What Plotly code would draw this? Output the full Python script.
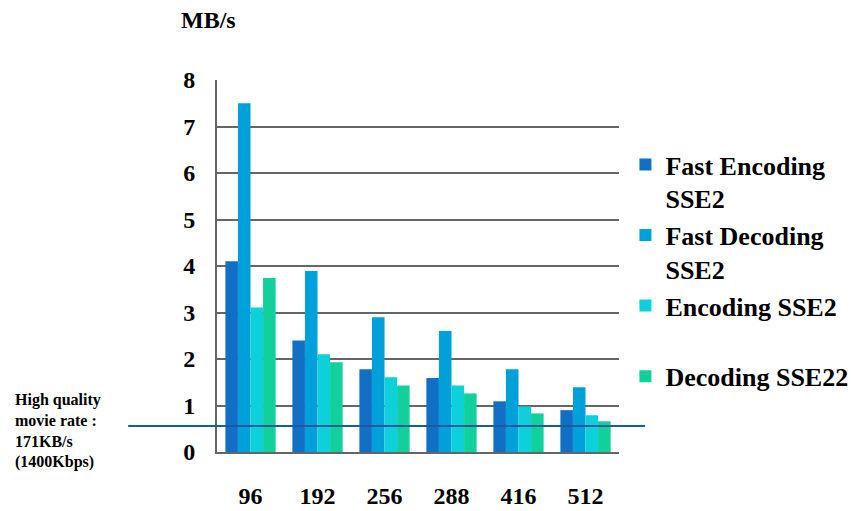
import plotly.graph_objects as go

categories = ["96", "192", "256", "288", "416", "512"]
fast_encoding = [4.10, 2.40, 1.78, 1.59, 1.09, 0.90]
fast_decoding = [7.50, 3.89, 2.90, 2.60, 1.78, 1.39]
encoding = [3.11, 2.10, 1.61, 1.43, 0.98, 0.79]
decoding = [3.74, 1.93, 1.43, 1.26, 0.83, 0.66]
series_names = ["Fast Encoding<br>SSE2", "Fast Decoding<br>SSE2", "Encoding SSE2<br> ", "Decoding SSE22"]
colors = ["#1170C6", "#00A0DA", "#0ED0DA", "#12D09B"]
threshold = 0.56
y_ticks = [0, 1, 2, 3, 4, 5, 6, 7, 8]

FONT = "'Liberation Serif', 'DejaVu Serif', serif"

fig = go.Figure()
for name, vals, col in zip(series_names, [fast_encoding, fast_decoding, encoding, decoding], colors):
    fig.add_trace(go.Bar(x=categories, y=vals, name="<b>" + name + "</b>",
                         marker=dict(color=col, line=dict(width=0))))

fig.add_shape(type="line", xref="paper", yref="y", x0=-0.221, x1=1.065, y0=threshold, y1=threshold,
              line=dict(color="#1B5A9C", width=2))

fig.add_annotation(xref="paper", yref="paper", x=-0.02, y=1.121, xanchor="center", yanchor="bottom",
                   text="<b>MB/s</b>", showarrow=False, font=dict(family=FONT, size=24, color="black"))
fig.add_annotation(xref="paper", yref="paper", x=-0.507, y=0.056, xanchor="left", yanchor="middle",
                   text="<b>High quality<br>movie rate :<br>171KB/s<br>(1400Kbps)</b>", align="left",
                   showarrow=False, font=dict(family=FONT, size=16, color="black"))

fig.update_layout(
    width=851, height=511,
    margin=dict(l=217, r=232, t=80, b=59, autoexpand=False),
    paper_bgcolor="white", plot_bgcolor="white",
    barmode="group", bargap=0.25, bargroupgap=0,
    font=dict(family=FONT, color="black"),
    legend=dict(x=1.016, y=0.836, xanchor="left", yanchor="top", valign="top",
                font=dict(family=FONT, size=26, color="black"), tracegroupgap=10,
                itemwidth=30, itemsizing="constant"),
    xaxis=dict(type="category", showline=True, linecolor="#666666", linewidth=2,
               ticks="", tickfont=dict(family=FONT, size=24, color="black", weight="bold"),
               ticklabelstandoff=21, showgrid=False, automargin=False),
    yaxis=dict(range=[0, 8], tickvals=y_ticks, showline=True, linecolor="#666666", linewidth=2,
               gridcolor="#666666", gridwidth=1.5, ticks="",
               tickfont=dict(family=FONT, size=24, color="black", weight="bold"), ticklabelstandoff=15,
               zeroline=False, automargin=False),
)

fig.write_html("out.html")
